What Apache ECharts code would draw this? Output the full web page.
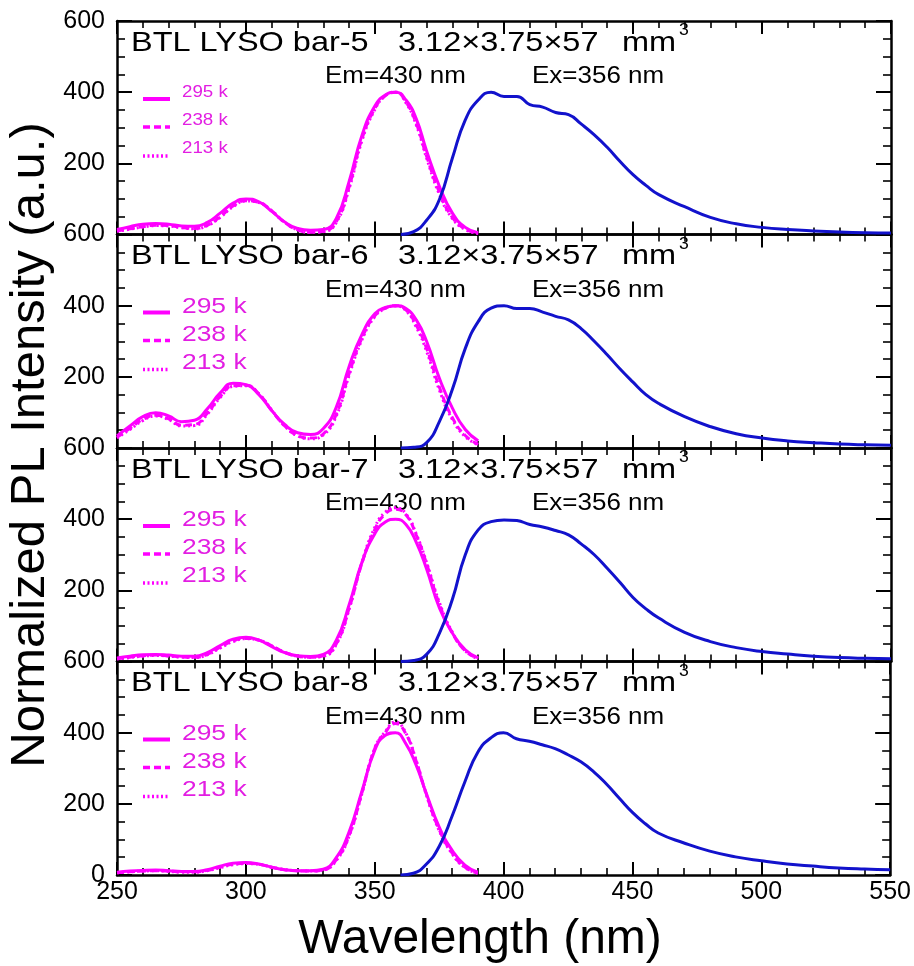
<!DOCTYPE html>
<html>
<head>
<meta charset="utf-8">
<script src="https://cdn.jsdelivr.net/npm/echarts@6/dist/echarts.min.js"></script>
<style>
  html, body { margin: 0; padding: 0; background: #fff; }
  #chart { width: 914px; height: 966px; }
</style>
</head>
<body>
<div id="chart"></div>
<script>
// Wavelength grids (nm)
const exWl = [250,255,260,265,270,275,280,285,290,295,300,305,310,315,320,325,330,335,340,345,350,354,358,362,366,370,375,380,385,390];
const emWl = [360,365,370,375,380,385,390,395,400,405,410,415,420,425,430,435,440,445,450,455,460,470,480,490,500,510,520,530,540,550];

// Panel labels
const barNames = ['bar-5', 'bar-6', 'bar-7', 'bar-8'];
const tempLabels = ['295 k', '238 k', '213 k'];
const xTicks = [250, 300, 350, 400, 450, 500, 550];
const yTicks = [0, 200, 400, 600];

// Excitation spectra (Em=430 nm) at 295 K / 238 K / 213 K
const b5_295 = [14,22,29,31,29,24,23,34,60,88,100,92,65,35,17,12,14,45,150,280,362,392,400,378,325,235,135,60,20,5];
const b5_238 = [10,16,22,26,25,20,17,26,50,80,95,90,66,34,13,6,9,36,135,270,355,390,400,372,312,220,118,48,15,3];
const b5_213 = [9,15,21,25,24,19,16,25,48,78,94,90,66,34,13,6,8,34,130,265,352,390,400,370,308,215,112,45,14,3];

const b6_295 = [34,62,88,99,90,74,78,110,155,182,178,150,105,66,43,38,55,115,230,320,378,395,400,392,360,300,195,112,52,20];
const b6_238 = [30,55,80,92,82,64,66,98,145,175,176,152,105,62,35,28,40,95,210,310,372,393,400,388,345,280,170,85,35,10];
const b6_213 = [28,52,77,90,80,62,63,95,142,173,175,152,106,62,34,26,37,90,205,305,370,392,399,386,340,272,162,80,32,9];

const b7_295 = [10,15,19,20,18,15,15,25,45,63,68,60,42,25,16,14,20,60,160,280,360,392,400,385,335,260,150,80,33,10];
const b7_238 = [8,12,16,18,16,13,12,20,40,58,65,60,44,26,15,12,16,50,150,278,372,415,428,412,355,275,160,80,30,8];
const b7_213 = [7,11,15,17,15,12,11,19,38,56,64,60,44,26,15,12,15,48,148,280,378,420,432,415,358,278,165,82,30,7];

const b8_295 = [8,11,13,14,12,10,10,15,25,33,35,31,22,15,12,12,16,48,120,235,350,392,400,370,310,230,135,70,28,8];
const b8_238 = [6,9,11,12,11,9,9,13,22,30,33,30,22,15,12,11,14,42,110,230,355,400,426,398,322,228,128,62,22,5];
const b8_213 = [6,9,11,12,10,8,8,12,21,29,32,30,22,15,12,11,14,40,108,228,356,402,430,400,324,226,125,60,21,5];

// Emission spectra (Ex=356 nm)
const b5_em = [0,8,40,99,215,322,378,400,388,388,365,358,343,337,310,280,245,205,168,138,112,78,48,30,20,14,10,7,5,4];
const b6_em = [0,2,15,75,165,280,355,393,400,392,392,382,370,360,335,300,262,222,185,150,125,88,60,40,28,20,15,11,9,8];
const b7_em = [0,3,20,80,175,300,370,393,398,396,385,378,368,356,330,300,262,222,180,148,122,82,56,39,28,21,15,11,9,8];
const b8_em = [0,5,30,80,165,262,345,385,400,383,376,366,355,338,318,290,255,215,176,144,118,90,67,51,40,31,25,20,17,15];

const exData = [
  [b5_295, b5_238, b5_213],
  [b6_295, b6_238, b6_213],
  [b7_295, b7_238, b7_213],
  [b8_295, b8_238, b8_213]
];
const emData = [b5_em, b6_em, b7_em, b8_em];

// Layout
const PLOT_LEFT = 117, PLOT_W = 774;
const TOP0 = 21, PANEL_H = 213.5;
const MAGENTA = '#ff00ff', LEGEND_TXT = '#e21ee2', BLUE = '#1212cc';
const FONT = '"Liberation Sans", Arial, sans-serif';
const lineStyles = [
  { type: 'solid' },
  { type: [7, 4] },
  { type: [2, 3] }
];

const pairs = (xs, ys) => xs.map((x, k) => [x, ys[k]]);

const grids = [], xAxes = [], yAxes = [], series = [], graphics = [];

function xAxisDef(i, pos, labels) {
  return {
    gridIndex: i, type: 'value', position: pos,
    min: xTicks[0], max: xTicks[xTicks.length - 1], interval: 50,
    axisLine: { show: true, onZero: false, lineStyle: { color: '#000', width: 2.5 } },
    axisTick: { show: true, inside: true, length: 13, lineStyle: { color: '#000', width: 2 } },
    minorTick: { show: true, splitNumber: 5, length: 7, lineStyle: { color: '#000', width: 1.6 } },
    splitLine: { show: false },
    axisLabel: { show: labels, color: '#000', fontSize: 25, fontFamily: FONT, margin: 5 }
  };
}
function yAxisDef(i, pos, labels) {
  return {
    gridIndex: i, type: 'value', position: pos,
    min: yTicks[0], max: yTicks[yTicks.length - 1], interval: 200,
    axisLine: { show: true, onZero: false, lineStyle: { color: '#000', width: 2.5 } },
    axisTick: { show: true, inside: true, length: 15, lineStyle: { color: '#000', width: 2 } },
    minorTick: { show: true, splitNumber: 4, length: 8, lineStyle: { color: '#000', width: 1.6 } },
    splitLine: { show: false },
    axisLabel: {
      show: labels, color: '#000', fontSize: 25, fontFamily: FONT, margin: 12,
      formatter: v => (v === 0 && i < 3) ? '' : String(v)
    }
  };
}

for (let i = 0; i < 4; i++) {
  const top = TOP0 + i * PANEL_H;
  grids.push({ left: PLOT_LEFT, width: PLOT_W, top: top, height: PANEL_H });
  xAxes.push(xAxisDef(i, 'bottom', i === 3));
  xAxes.push(xAxisDef(i, 'top', false));
  yAxes.push(yAxisDef(i, 'left', true));
  yAxes.push(yAxisDef(i, 'right', false));

  // excitation curves, drawn coldest first so the 295 K line sits on top
  for (let t = 2; t >= 0; t--) {
    series.push({
      type: 'line', xAxisIndex: 2 * i, yAxisIndex: 2 * i,
      data: pairs(exWl, exData[i][t]),
      showSymbol: false, symbol: 'none', smooth: 0.5,
      lineStyle: Object.assign({ color: MAGENTA, width: 3 }, lineStyles[t]),
      silent: true, animation: false, z: 3
    });
  }
  series.push({
    type: 'line', xAxisIndex: 2 * i, yAxisIndex: 2 * i,
    data: pairs(emWl, emData[i]),
    showSymbol: false, symbol: 'none', smooth: 0.5,
    lineStyle: { color: BLUE, width: 3 },
    silent: true, animation: false, z: 4
  });

  // panel header
  graphics.push({ type: 'text', x: 131, y: top + 22, scaleX: 1.16,
    style: { text: 'BTL LYSO ' + barNames[i], font: '28px ' + FONT, fill: '#000', align: 'left', verticalAlign: 'middle' } });
  graphics.push({ type: 'text', x: 398, y: top + 22, scaleX: 1.16,
    style: { text: '3.12\u00d73.75\u00d757', font: '28px ' + FONT, fill: '#000', align: 'left', verticalAlign: 'middle' } });
  graphics.push({ type: 'text', x: 622, y: top + 22, scaleX: 1.16,
    style: { text: 'mm', font: '28px ' + FONT, fill: '#000', align: 'left', verticalAlign: 'middle' } });
  graphics.push({ type: 'text', x: 679, y: top + 10, scaleX: 1.1,
    style: { text: '3', font: '16px ' + FONT, fill: '#000', align: 'left', verticalAlign: 'middle' } });
  graphics.push({ type: 'text', x: 325, y: top + 56, scaleX: 1.13,
    style: { text: 'Em=430 nm', font: '23px ' + FONT, fill: '#000', align: 'left', verticalAlign: 'middle' } });
  graphics.push({ type: 'text', x: 532, y: top + 56, scaleX: 1.13,
    style: { text: 'Ex=356 nm', font: '23px ' + FONT, fill: '#000', align: 'left', verticalAlign: 'middle' } });

  // temperature key
  const keyFont = i === 0 ? 16 : 22;
  const keyScale = i === 0 ? 1.17 : 1.2;
  const keyLineY = [78, 106, 135];
  const keyTextY = [72, 100, 128];
  const dashes = [null, [7, 4], [2, 2.5]];
  for (let t = 0; t < 3; t++) {
    graphics.push({ type: 'line',
      shape: { x1: 143, y1: top + keyLineY[t], x2: 170, y2: top + keyLineY[t] },
      style: { stroke: MAGENTA, lineWidth: t === 0 ? 4 : 3.5, lineDash: dashes[t] } });
    graphics.push({ type: 'text', x: 182, y: top + keyTextY[t], scaleX: keyScale,
      style: { text: tempLabels[t], font: keyFont + 'px ' + FONT, fill: LEGEND_TXT, align: 'left', verticalAlign: 'middle' } });
  }
}

// axis titles
graphics.push({ type: 'text', x: 480, y: 940,
  style: { text: 'Wavelength (nm)', font: '48px ' + FONT, fill: '#000', align: 'center', verticalAlign: 'middle' } });
graphics.push({ type: 'text', x: 30, y: 445, rotation: Math.PI / 2,
  style: { text: 'Normalized PL Intensity (a.u.)', font: '49px ' + FONT, fill: '#000', align: 'center', verticalAlign: 'middle' } });

const chart = echarts.init(document.getElementById('chart'), null, { renderer: 'canvas' });
chart.setOption({
  backgroundColor: '#fff',
  animation: false,
  grid: grids,
  xAxis: xAxes,
  yAxis: yAxes,
  series: series,
  graphic: { elements: graphics }
});
</script>
</body>
</html>
